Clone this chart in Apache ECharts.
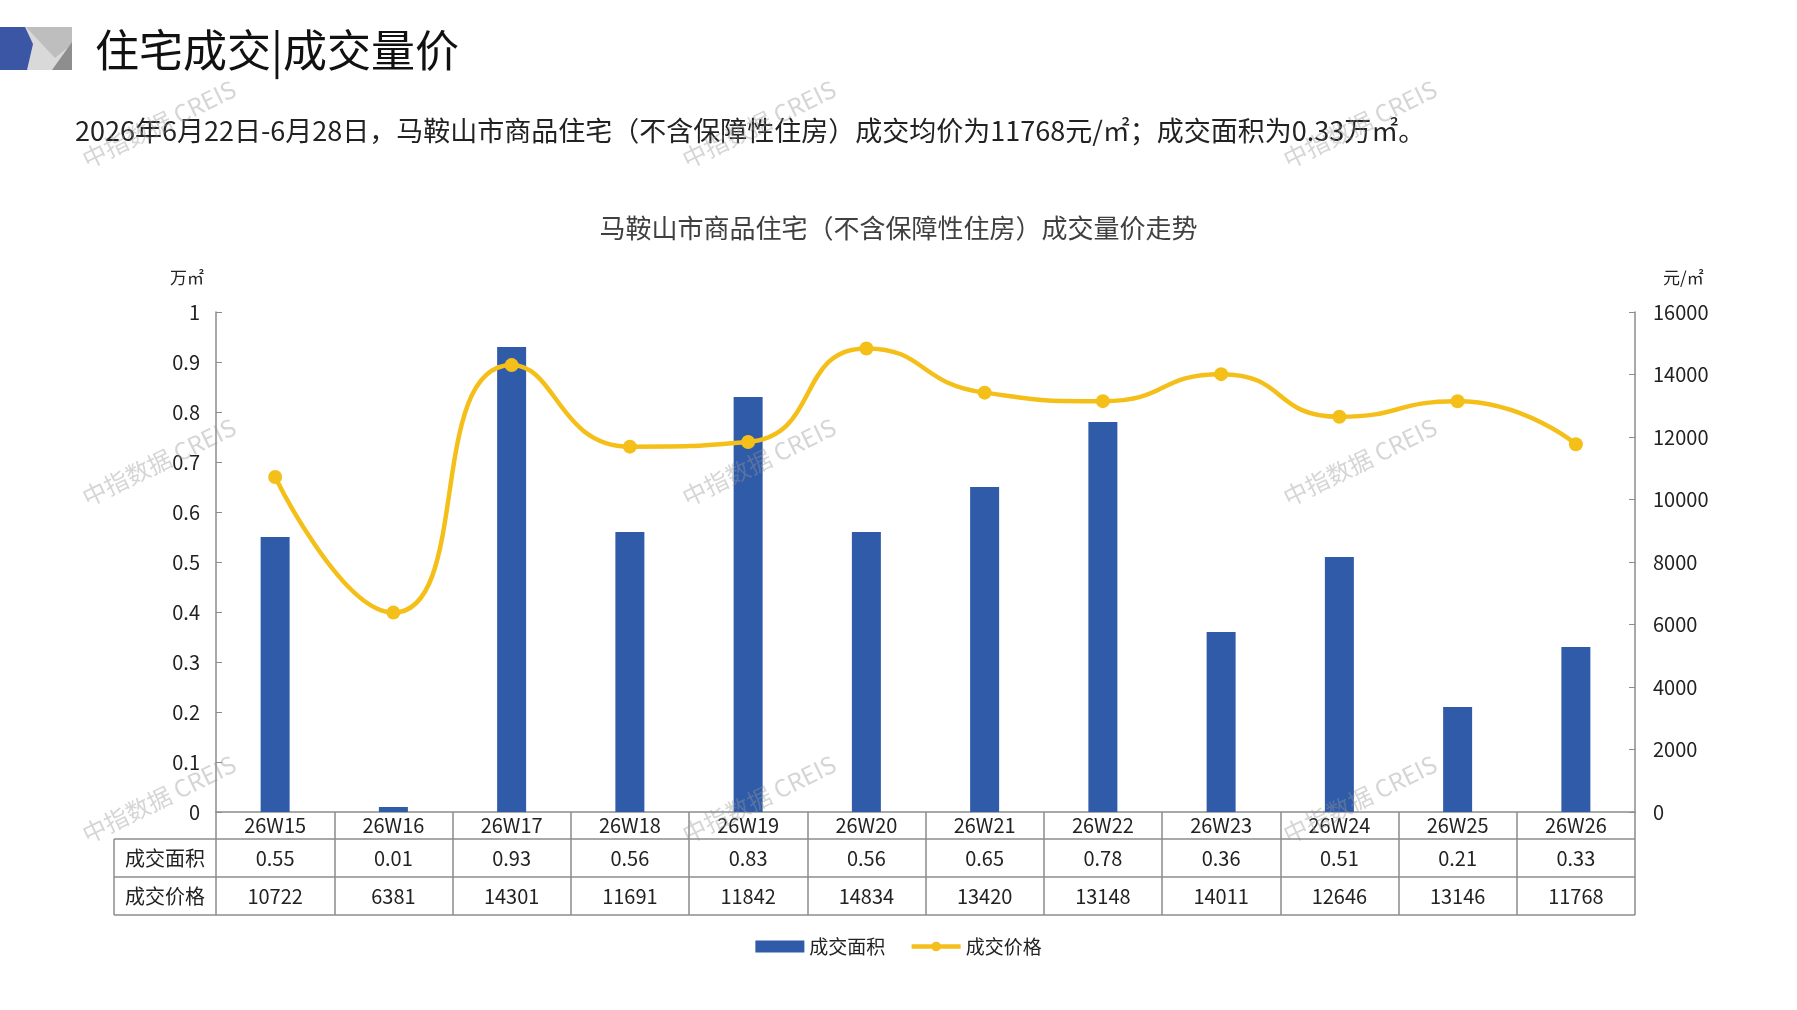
<!DOCTYPE html>
<html>
<head>
<meta charset="utf-8">
<title>马鞍山市商品住宅成交量价走势</title>
<script src="https://cdn.jsdelivr.net/npm/echarts@6/dist/echarts.min.js"></script>
<style>
  html, body { margin: 0; padding: 0; background: #fff; }
  #chart { width: 1797px; height: 1010px; }
</style>
</head>
<body>
<div id="chart"></div>
<script>
// 周次、成交面积(万㎡)、成交价格(元/㎡)
const weeks = ['26W15', '26W16', '26W17', '26W18', '26W19', '26W20', '26W21', '26W22', '26W23', '26W24', '26W25', '26W26'];
const areaValues = [0.55, 0.01, 0.93, 0.56, 0.83, 0.56, 0.65, 0.78, 0.36, 0.51, 0.21, 0.33];
const priceValues = [10722, 6381, 14301, 11691, 11842, 14834, 13420, 13148, 14011, 12646, 13146, 11768];
// 坐标轴刻度
const areaTicks = [0, 1, 0.1];        // min, max, interval
const priceTicks = [0, 16000, 2000];
const rowNames = ['成交面积', '成交价格'];

const FONT = '"Noto Sans CJK SC", "Noto Sans", sans-serif';
const BLUE = '#2F5BA8';
const GOLD = '#F5BF1A';
const GRID_LINE = '#8C8C8C';

// 画布布局
const gridLeft = 216, gridRight = 1635, gridTop = 312, gridBottom = 812;
const rowH = [27, 38, 38];
const tableLeft = 114;
const row1 = gridBottom + rowH[0];
const row2 = row1 + rowH[1];
const row3 = row2 + rowH[2];

const chart = echarts.init(document.getElementById('chart'));

// 水印
const marks = [];
[124, 462, 799].forEach(function (y) {
  [159, 759, 1360].forEach(function (x) {
    marks.push({
      type: 'text',
      x: x,
      y: y,
      rotation: Math.PI / 180 * 26,
      silent: true,
      z: 100,
      style: {
        text: '中指数据 CREIS',
        fontSize: 24,
        fontFamily: FONT,
        fill: 'rgba(150,150,150,0.4)',
        align: 'center',
        verticalAlign: 'middle',
        textAlign: 'center',
        textVerticalAlign: 'middle'
      }
    });
  });
});

const lineStyle = { stroke: GRID_LINE, lineWidth: 1.5 };

var option = {
  backgroundColor: '#fff',
  animation: false,
  title: [
    {
      text: '住宅成交|成交量价',
      left: 90,
      top: 23,
      textStyle: { fontSize: 44, fontWeight: 'normal', color: '#111', fontFamily: FONT }
    },
    {
      text: '2026年6月22日-6月28日，马鞍山市商品住宅（不含保障性住房）成交均价为' +
        priceValues[priceValues.length - 1] + '元/㎡；成交面积为' +
        areaValues[areaValues.length - 1].toFixed(2) + '万㎡。',
      left: 70,
      top: 112,
      textStyle: { fontSize: 27, fontWeight: 'normal', color: '#222', fontFamily: FONT }
    },
    {
      text: '马鞍山市商品住宅（不含保障性住房）成交量价走势',
      left: 'center',
      top: 210,
      textStyle: { fontSize: 26, fontWeight: 'normal', color: '#404040', fontFamily: FONT }
    }
  ],
  legend: {
    left: 'center',
    top: 932,
    itemWidth: 49,
    itemHeight: 12,
    itemGap: 24,
    textStyle: { fontSize: 19, color: '#222', fontFamily: FONT },
    data: [
      { name: '成交面积', icon: 'rect' },
      { name: '成交价格', lineStyle: { width: 4.5 } }
    ]
  },
  grid: {
    left: gridLeft,
    right: 1797 - gridRight,
    top: gridTop,
    bottom: 1010 - gridBottom
  },
  xAxis: {
    type: 'category',
    data: weeks,
    axisLine: { show: true, lineStyle: { color: GRID_LINE, width: 1.5 } },
    axisTick: {
      show: true,
      interval: 0,
      length: rowH[0] + rowH[1] + rowH[2],
      lineStyle: { color: GRID_LINE, width: 1.5 }
    },
    axisLabel: {
      interval: 0,
      margin: 0,
      formatter: function (val, idx) {
        return '{c|' + val + '}\n{a|' + areaValues[idx].toFixed(2) + '}\n{p|' + priceValues[idx] + '}';
      },
      rich: {
        c: { fontSize: 20, lineHeight: rowH[0], color: '#222', fontFamily: FONT, align: 'center' },
        a: { fontSize: 20, lineHeight: rowH[1], color: '#222', fontFamily: FONT, align: 'center' },
        p: { fontSize: 20, lineHeight: rowH[2], color: '#222', fontFamily: FONT, align: 'center' }
      }
    }
  },
  yAxis: [
    {
      type: 'value',
      name: '万㎡',
      nameLocation: 'end',
      nameGap: 26,
      nameTextStyle: { fontSize: 17, color: '#222', fontFamily: FONT, align: 'right', padding: [0, 12, 0, 0] },
      min: areaTicks[0],
      max: areaTicks[1],
      interval: areaTicks[2],
      axisLine: { show: true, lineStyle: { color: GRID_LINE, width: 1.5 } },
      axisTick: { show: true, inside: true, length: 6, lineStyle: { color: GRID_LINE } },
      splitLine: { show: false },
      axisLabel: {
        fontSize: 20,
        color: '#222',
        fontFamily: FONT,
        margin: 16,
        formatter: function (v) {
          return (v === 0 || v === 1) ? String(v) : v.toFixed(1);
        }
      }
    },
    {
      type: 'value',
      name: '元/㎡',
      nameLocation: 'end',
      nameGap: 26,
      nameTextStyle: { fontSize: 17, color: '#222', fontFamily: FONT, align: 'left', padding: [0, 0, 0, 28] },
      position: 'right',
      min: priceTicks[0],
      max: priceTicks[1],
      interval: priceTicks[2],
      axisLine: { show: true, lineStyle: { color: GRID_LINE, width: 1.5 } },
      axisTick: { show: true, inside: true, length: 6, lineStyle: { color: GRID_LINE } },
      splitLine: { show: false },
      axisLabel: {
        fontSize: 20,
        color: '#222',
        fontFamily: FONT,
        margin: 18,
        formatter: function (v) { return String(v); }
      }
    }
  ],
  series: [
    {
      name: '成交面积',
      type: 'bar',
      yAxisIndex: 0,
      barWidth: 29,
      itemStyle: { color: BLUE },
      data: areaValues
    },
    {
      name: '成交价格',
      type: 'line',
      yAxisIndex: 1,
      smooth: 0.55,
      symbol: 'circle',
      symbolSize: 14,
      z: 5,
      itemStyle: { color: GOLD },
      lineStyle: { color: GOLD, width: 4.5 },
      data: priceValues
    }
  ],
  graphic: [
    // 标题左侧色块
    { type: 'polygon', shape: { points: [[20, 27], [72, 27], [72, 70], [20, 70]] }, style: { fill: '#D9D9D9' } },
    { type: 'polygon', shape: { points: [[26, 27], [72, 27], [72, 44], [55, 58]] }, style: { fill: '#BEBEBE' } },
    { type: 'polygon', shape: { points: [[72, 42], [72, 70], [52, 70]] }, style: { fill: '#8E8E8E' } },
    { type: 'polygon', shape: { points: [[0, 27], [25, 27], [33, 44], [27, 70], [0, 70]] }, style: { fill: '#3A56A5' } },
    // 数据表格线
    { type: 'line', shape: { x1: tableLeft, y1: row1, x2: gridRight, y2: row1 }, style: lineStyle },
    { type: 'line', shape: { x1: tableLeft, y1: row2, x2: gridRight, y2: row2 }, style: lineStyle },
    { type: 'line', shape: { x1: tableLeft, y1: row3, x2: gridRight, y2: row3 }, style: lineStyle },
    { type: 'line', shape: { x1: tableLeft, y1: row1, x2: tableLeft, y2: row3 }, style: lineStyle },
    {
      type: 'text', x: (tableLeft + gridLeft) / 2, y: (row1 + row2) / 2,
      style: { text: rowNames[0], fontSize: 20, fontFamily: FONT, fill: '#222', align: 'center', verticalAlign: 'middle', textAlign: 'center', textVerticalAlign: 'middle' }
    },
    {
      type: 'text', x: (tableLeft + gridLeft) / 2, y: (row2 + row3) / 2,
      style: { text: rowNames[1], fontSize: 20, fontFamily: FONT, fill: '#222', align: 'center', verticalAlign: 'middle', textAlign: 'center', textVerticalAlign: 'middle' }
    }
  ].concat(marks)
};

chart.setOption(option);
</script>
</body>
</html>
